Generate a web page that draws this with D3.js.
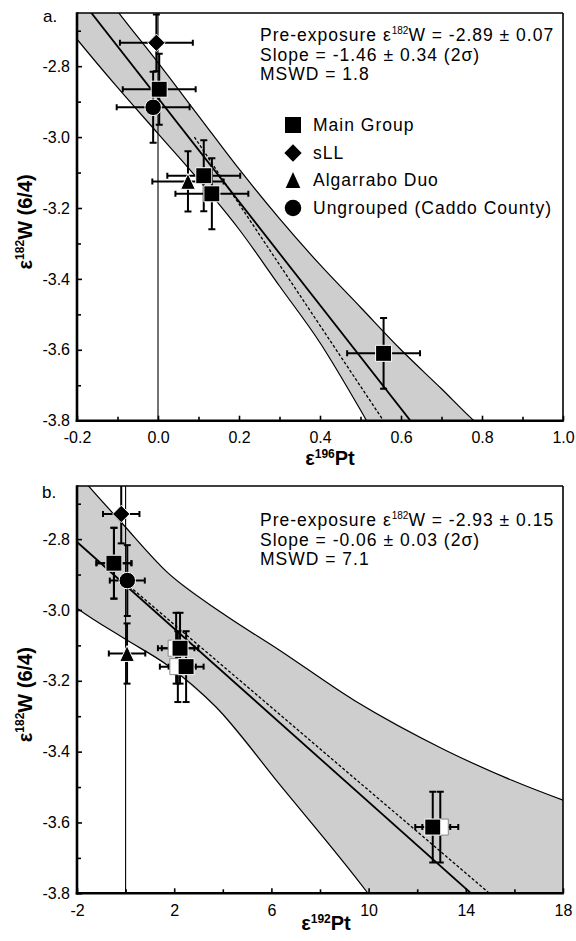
<!DOCTYPE html>
<html><head><meta charset="utf-8">
<script src="https://cdn.jsdelivr.net/npm/d3@7"></script>
<style>
body{margin:0;background:#fff}
svg{display:block}
text{font-family:"Liberation Sans",Arial,Helvetica,sans-serif;fill:#000}
</style>
</head><body>
<svg id="chart" width="576" height="941"></svg>
<script>
// ---------------- DATA ----------------
const yTicksMajor = [-3.8, -3.6, -3.4, -3.2, -3.0, -2.8];
const yTicksMinor = [-3.7, -3.5, -3.3, -3.1, -2.9, -2.7];
const yDomain = [-3.8, -2.65];

// Panel a (x = ε196Pt)
const aXDomain = [-0.2, 1.0];
const aXTicksMajor = [-0.2, 0.0, 0.2, 0.4, 0.6, 0.8, 1.0];
const aXTicksMinor = [-0.1, 0.1, 0.3, 0.5, 0.7, 0.9];
const aMainX = [0.003, 0.113, 0.133, 0.557];
const aMainY = [-2.865, -3.109, -3.160, -3.610];
const aMainXErr = [0.09, 0.09, 0.09, 0.09];
const aMainYErr = [0.10, 0.10, 0.10, 0.10];
const aSllX = [-0.004], aSllY = [-2.734], aSllXErr = [0.09], aSllYErr = [0.08];
const aAlgX = [0.074], aAlgY = [-3.125], aAlgXErr = [0.088], aAlgYErr = [0.085];
const aUngX = [-0.012], aUngY = [-2.916], aUngXErr = [0.09], aUngYErr = [0.10];
const aFitX = [-0.2, 0.65], aFitY = [-2.598, -3.839];
const aDashX = [0.09, 0.58], aDashY = [-3.0, -3.84];
const aUpperX = [-0.11, -0.10, 0.0, 0.1, 0.2, 0.3, 0.4, 0.5, 0.6, 0.7, 0.78, 0.80];
const aUpperY = [-2.63, -2.645, -2.79, -2.94, -3.09, -3.23, -3.36, -3.48, -3.60, -3.71, -3.80, -3.82];
const aLowerX = [-0.21, -0.2, -0.1, 0.0, 0.1, 0.2, 0.3, 0.4, 0.5, 0.53];
const aLowerY = [-2.71, -2.724, -2.86, -2.99, -3.12, -3.26, -3.42, -3.58, -3.77, -3.83];
const aText = ["-2.89 ± 0.07", "Slope = -1.46 ± 0.34 (2σ)", "MSWD = 1.8"];

// Panel b (x = ε192Pt)
const bXDomain = [-2, 18];
const bXTicksMajor = [-2, 2, 6, 10, 14, 18];
const bXTicksMinor = [0, 4, 8, 12, 16];
const bMainX = [-0.48, 2.24, 2.49, 12.64];
const bMainY = [-2.868, -3.108, -3.160, -3.613];
const bMainXErr = [0.72, 0.75, 0.72, 0.72];
const bMainYErr = [0.10, 0.10, 0.10, 0.10];
const bOpenX = [-0.48, 2.08, 2.15, 12.95];
const bOpenY = [-2.868, -3.108, -3.160, -3.613];
const bOpenXErr = [0.72, 0.75, 0.74, 0.74];
const bOpenYErr = [0.10, 0.10, 0.10, 0.10];
const bSllX = [-0.18], bSllY = [-2.729], bSllXErr = [0.75], bSllYErr = [0.083];
const bAlgX = [0.06], bAlgY = [-3.123], bAlgXErr = [0.75], bAlgYErr = [0.085];
const bUngX = [0.07], bUngY = [-2.917], bUngXErr = [0.72], bUngYErr = [0.10];
const bFitX = [-2, 15], bFitY = [-2.808, -3.848];
const bDashX = [0.0, 16], bDashY = [-2.924, -3.860];
const bUpperX = [-1.8, -1.55, -0.2, 1.72, 4.0, 6.32, 9.4, 13.16, 15.9, 18.0, 18.2];
const bUpperY = [-2.628, -2.648, -2.751, -2.894, -3.01, -3.113, -3.255, -3.396, -3.481, -3.537, -3.542];
const bLowerX = [-2.1, -2.0, 0.0, 1.72, 3.72, 6.32, 9.94, 10.3];
const bLowerY = [-2.99, -2.995, -3.083, -3.156, -3.274, -3.491, -3.797, -3.83];
const bText = ["-2.93 ± 0.15", "Slope = -0.06 ± 0.03 (2σ)", "MSWD = 7.1"];

const legendLabels = ["Main Group", "sLL", "Algarrabo Duo", "Ungrouped (Caddo County)"];

// ---------------- DRAW ----------------
const svg = d3.select("#chart");
const zip = (xs, ys, xe, ye) => xs.map((v, i) => ({x: v, y: ys[i], xe: xe ? xe[i] : 0, ye: ye ? ye[i] : 0}));

const triType = {draw(ctx, size) {
  const w = Math.sqrt(size) * 1.0, h = w * 1.08;
  ctx.moveTo(0, -h / 2); ctx.lineTo(w / 2, h / 2); ctx.lineTo(-w / 2, h / 2); ctx.closePath();
}};
const diamType = {draw(ctx, size) {
  const r = Math.sqrt(size) / 2;
  ctx.moveTo(0, -r); ctx.lineTo(r, 0); ctx.lineTo(0, r); ctx.lineTo(-r, 0); ctx.closePath();
}};
const markers = {
  square: d3.symbol().type(d3.symbolSquare).size(256),
  diamond: d3.symbol().type(diamType).size(300),
  triangle: d3.symbol().type(triType).size(215),
  circle: d3.symbol().type(d3.symbolCircle).size(215)
};
const FS = 17.5;   // stats / legend font size
const LS = 1.0;    // letter spacing for stats & legend text

function drawPanel(cfg) {
  const L = 77, R = 563, T = cfg.top, B = cfg.bottom;
  const x = d3.scaleLinear().domain(cfg.xDomain).range([L, R]);
  const y = d3.scaleLinear().domain(yDomain).range([B, T]);
  const g = svg.append("g");
  const cid = "clip" + cfg.id;
  g.append("clipPath").attr("id", cid).append("rect")
    .attr("x", L).attr("y", T).attr("width", R - L).attr("height", B - T);
  const p = g.append("g").attr("clip-path", `url(#${cid})`);

  // band
  const up = zip(cfg.upX, cfg.upY), lo = zip(cfg.loX, cfg.loY);
  const xd = cfg.xDomain, span = xd[1] - xd[0];
  const poly = [{x: xd[0] - span * 0.2, y: yDomain[1] + 0.3}]
    .concat(up)
    .concat([{x: xd[1] + span * 0.2, y: yDomain[0] - 0.3}])
    .concat(lo.slice().reverse());
  p.append("path").attr("d", d3.line().x(d => x(d.x)).y(d => y(d.y))(poly))
    .attr("fill", "#cecece").attr("stroke", "none");
  const edge = d3.line().x(d => x(d.x)).y(d => y(d.y)).curve(d3.curveMonotoneX);
  [up, lo].forEach(e => p.append("path").attr("d", edge(e))
    .attr("fill", "none").attr("stroke", "#000").attr("stroke-width", 1.2));

  // x = 0 reference line
  p.append("line").attr("x1", x(0)).attr("x2", x(0)).attr("y1", T).attr("y2", B)
    .attr("stroke", "#000").attr("stroke-width", 1.1);

  // regression lines
  const ln = d3.line().x(d => x(d.x)).y(d => y(d.y));
  p.append("path").attr("d", ln(zip(cfg.fitX, cfg.fitY)))
    .attr("stroke", "#000").attr("stroke-width", 1.8).attr("fill", "none");
  p.append("path").attr("d", ln(zip(cfg.dashX, cfg.dashY)))
    .attr("stroke", "#000").attr("stroke-width", 1.3).attr("stroke-dasharray", "3,2").attr("fill", "none");

  // error bars
  const cap = 3.5;
  cfg.series.forEach(s => {
    s.data.forEach(d => {
      const eb = p.append("g").attr("stroke", "#000").attr("stroke-width", 2);
      const cx = x(d.x), cy = y(d.y);
      const x0 = x(d.x - d.xe), x1 = x(d.x + d.xe), y0 = y(d.y + d.ye), y1 = y(d.y - d.ye);
      eb.append("line").attr("x1", x0).attr("x2", x1).attr("y1", cy).attr("y2", cy);
      eb.append("line").attr("x1", x0).attr("x2", x0).attr("y1", cy - cap + 0.5).attr("y2", cy + cap - 0.5);
      eb.append("line").attr("x1", x1).attr("x2", x1).attr("y1", cy - cap + 0.5).attr("y2", cy + cap - 0.5);
      eb.append("line").attr("x1", cx).attr("x2", cx).attr("y1", y0).attr("y2", y1);
      eb.append("line").attr("x1", cx - cap).attr("x2", cx + cap).attr("y1", y0).attr("y2", y0);
      eb.append("line").attr("x1", cx - cap).attr("x2", cx + cap).attr("y1", y1).attr("y2", y1);
    });
  });
  // markers
  cfg.series.forEach(s => {
    p.selectAll(null).data(s.data).enter().append("path")
      .attr("d", markers[s.shape]())
      .attr("transform", d => `translate(${x(d.x)},${y(d.y)})`)
      .attr("fill", s.fill).attr("stroke", s.stroke).attr("stroke-width", 1);
  });

  // axes (ticks inward)
  const fmtY = d => d.toFixed(1);
  const yAx = g.append("g").attr("transform", `translate(${L},0)`)
    .call(d3.axisLeft(y).tickValues(yTicksMajor).tickFormat(fmtY).tickSizeInner(-5).tickSizeOuter(0).tickPadding(7));
  const yAxm = g.append("g").attr("transform", `translate(${L},0)`)
    .call(d3.axisLeft(y).tickValues(yTicksMinor).tickFormat("").tickSizeInner(-4).tickSizeOuter(0));
  const xAx = g.append("g").attr("transform", `translate(0,${B})`)
    .call(d3.axisBottom(x).tickValues(cfg.xMajor).tickFormat(cfg.fmtX).tickSizeInner(-5).tickSizeOuter(0).tickPadding(11));
  const xAxm = g.append("g").attr("transform", `translate(0,${B})`)
    .call(d3.axisBottom(x).tickValues(cfg.xMinor).tickFormat("").tickSizeInner(-4).tickSizeOuter(0));
  [yAx, yAxm, xAx, xAxm].forEach(a => {
    a.select(".domain").remove();
    a.selectAll(".tick line").attr("stroke", "#000").attr("stroke-width", 1.6);
    a.selectAll("text").attr("font-size", 16).attr("font-family", '"Liberation Sans",Arial,sans-serif').attr("fill", "#000");
  });
  // frame
  g.append("line").attr("x1", L).attr("x2", R).attr("y1", T).attr("y2", T).attr("stroke", "#000").attr("stroke-width", 1.6);
  g.append("line").attr("x1", R).attr("x2", R).attr("y1", T).attr("y2", B).attr("stroke", "#000").attr("stroke-width", 1.6);
  g.append("line").attr("x1", L).attr("x2", L).attr("y1", T - 0.8).attr("y2", B + 1.3).attr("stroke", "#000").attr("stroke-width", 2.6);
  g.append("line").attr("x1", L - 1.3).attr("x2", R + 0.8).attr("y1", B).attr("y2", B).attr("stroke", "#000").attr("stroke-width", 2.6);

  // panel letter
  g.append("text").attr("x", cfg.letterX).attr("y", cfg.letterY).attr("font-size", 17).text(cfg.letter);

  // axis titles
  const yt = g.append("text").attr("transform", `translate(32,${(T + B) / 2 + 5}) rotate(-90)`)
    .attr("text-anchor", "middle").attr("font-weight", "bold").attr("font-size", 20);
  yt.append("tspan").text("ε");
  yt.append("tspan").attr("font-size", 12).attr("dy", -8).text("182");
  yt.append("tspan").attr("dy", 8).text("W (6/4)");
  const xt = g.append("text").attr("x", cfg.xTitleX).attr("y", cfg.xTitleY)
    .attr("text-anchor", "middle").attr("font-weight", "bold").attr("font-size", 20);
  xt.append("tspan").text("ε");
  xt.append("tspan").attr("font-size", 12).attr("dy", -7).text(cfg.xIso);
  xt.append("tspan").attr("dy", 7).text("Pt");

  // stats text
  const t1 = g.append("text").attr("x", 260).attr("y", cfg.textY[0]).attr("font-size", FS).attr("letter-spacing", LS);
  t1.append("tspan").text("Pre-exposure ε");
  t1.append("tspan").attr("font-size", 10).attr("dy", -7).attr("letter-spacing", 0).text("182");
  t1.append("tspan").attr("dy", 7).text("W = " + cfg.text[0]);
  g.append("text").attr("x", 260).attr("y", cfg.textY[1]).attr("font-size", FS).attr("letter-spacing", LS).text(cfg.text[1]);
  g.append("text").attr("x", 260).attr("y", cfg.textY[2]).attr("font-size", FS).attr("letter-spacing", LS).text(cfg.text[2]);

  if (cfg.legend) {
    const shapes = ["square", "diamond", "triangle", "circle"];
    const ly = [125, 153, 180, 208];
    legendLabels.forEach((lab, i) => {
      g.append("path").attr("d", markers[shapes[i]]())
        .attr("transform", `translate(293,${ly[i]})`).attr("fill", "#000");
      g.append("text").attr("x", 313).attr("y", ly[i] + 6.3).attr("font-size", FS).attr("letter-spacing", LS).text(lab);
    });
  }
}

drawPanel({
  id: "a", top: 13, bottom: 420.7, xDomain: aXDomain,
  xMajor: aXTicksMajor, xMinor: aXTicksMinor, fmtX: d => d.toFixed(1),
  upX: aUpperX, upY: aUpperY, loX: aLowerX, loY: aLowerY,
  fitX: aFitX, fitY: aFitY, dashX: aDashX, dashY: aDashY,
  series: [
    {shape: "square", fill: "#000", stroke: "#fff", data: zip(aMainX, aMainY, aMainXErr, aMainYErr)},
    {shape: "diamond", fill: "#000", stroke: "#fff", data: zip(aSllX, aSllY, aSllXErr, aSllYErr)},
    {shape: "triangle", fill: "#000", stroke: "#fff", data: zip(aAlgX, aAlgY, aAlgXErr, aAlgYErr)},
    {shape: "circle", fill: "#000", stroke: "#fff", data: zip(aUngX, aUngY, aUngXErr, aUngYErr)}
  ],
  letter: "a.", letterX: 43, letterY: 22,
  xTitleX: 330, xTitleY: 465, xIso: "196",
  text: aText, textY: [41, 60.5, 80], legend: true
});
drawPanel({
  id: "b", top: 486, bottom: 893.3, xDomain: bXDomain,
  xMajor: bXTicksMajor, xMinor: bXTicksMinor, fmtX: d => String(d).replace("−", "-"),
  upX: bUpperX, upY: bUpperY, loX: bLowerX, loY: bLowerY,
  fitX: bFitX, fitY: bFitY, dashX: bDashX, dashY: bDashY,
  series: [
    {shape: "square", fill: "#fff", stroke: "#888", data: zip(bOpenX, bOpenY, bOpenXErr, bOpenYErr)},
    {shape: "square", fill: "#000", stroke: "#fff", data: zip(bMainX, bMainY, bMainXErr, bMainYErr)},
    {shape: "diamond", fill: "#000", stroke: "#fff", data: zip(bSllX, bSllY, bSllXErr, bSllYErr)},
    {shape: "triangle", fill: "#000", stroke: "#fff", data: zip(bAlgX, bAlgY, bAlgXErr, bAlgYErr)},
    {shape: "circle", fill: "#000", stroke: "#fff", data: zip(bUngX, bUngY, bUngXErr, bUngYErr)}
  ],
  letter: "b.", letterX: 42, letterY: 498,
  xTitleX: 326, xTitleY: 930, xIso: "192",
  text: bText, textY: [526, 545.5, 565], legend: false
});
</script>
</body></html>
